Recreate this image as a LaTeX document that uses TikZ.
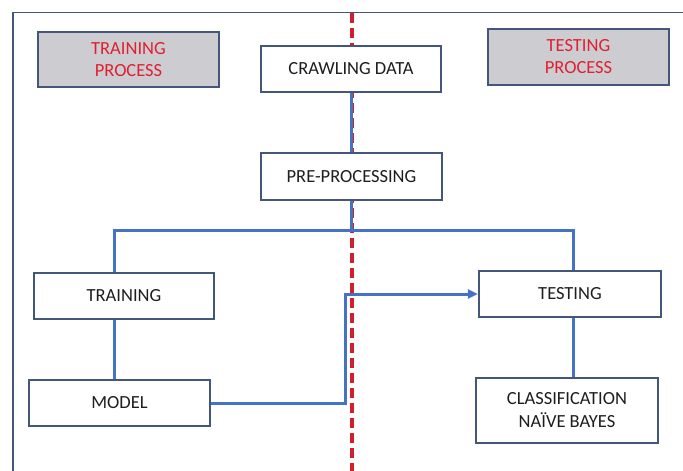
\documentclass[tikz,border=0pt]{standalone}
\usepackage{fontspec}
\setmainfont{Carlito}
\usetikzlibrary{arrows.meta}
\definecolor{boxline}{HTML}{44567C}
\definecolor{conn}{HTML}{4472C4}
\definecolor{redtxt}{HTML}{E02030}
\definecolor{reddash}{HTML}{D0202E}
\definecolor{grayfill}{HTML}{CDCDD1}
\definecolor{txt}{HTML}{1E1E1E}
\tikzset{
  box/.style={draw=boxline, line width=2.3pt, fill=white, rectangle, inner sep=0pt,
    align=center, text=txt, font=\fontsize{18.5}{22}\selectfont},
  graybox/.style={box, fill=grayfill, text=redtxt},
  connline/.style={draw=conn, line width=3pt},
  divider/.style={draw=reddash, line width=3.2pt, dash pattern=on 10pt off 5pt},
  frameline/.style={draw=boxline, line width=1.8pt}
}
\begin{document}
\begin{tikzpicture}[x=1pt,y=-1pt]
\useasboundingbox (0,0) rectangle (683,471);
\coordinate (ftop) at (683,12.5);
\coordinate (fcorner) at (13,12.5);
\coordinate (fbot) at (13,471);
\draw[frameline] (fbot) -- (fcorner) -- (ftop);
\coordinate (dtop) at (352,13);
\coordinate (dbot) at (352,471);
\draw[divider] (dtop) -- (dbot);

\node[graybox, minimum width=181pt, minimum height=55pt] (tp) at (128.5,59.5) {TRAINING\\PROCESS};
\node[graybox, minimum width=181pt, minimum height=56pt] (sp) at (578.5,57) {TESTING\\PROCESS};
\node[box, minimum width=180pt, minimum height=46pt] (crawl) at (351,69) {CRAWLING DATA};
\node[box, minimum width=181pt, minimum height=47pt] (pre) at (351.5,176.5) {PRE-PROCESSING};
\node[box, minimum width=180pt, minimum height=46pt] (train) at (124,296) {TRAINING};
\node[box, minimum width=182pt, minimum height=46pt] (test) at (570,294) {TESTING};
\node[box, minimum width=181pt, minimum height=46pt] (model) at (119.5,403) {MODEL};
\node[box, minimum width=182pt, minimum height=65pt, font=\fontsize{18.5}{23}\selectfont] (cls) at (567,410.5) {CLASSIFICATION\\NAÏVE BAYES};

\coordinate (br) at (351.5,230);
\coordinate (bl) at (114,230);
\coordinate (brr) at (573,230);
\coordinate (mc) at (345,294);

\draw[connline] (crawl.south) -- (crawl.south |- pre.north);
\draw[connline] (pre.south) -- (br);
\draw[connline] (bl |- train.north) -- (bl) -- (brr) -- (brr |- test.north);
\draw[connline] (train.south -| bl) -- (model.north -| bl);
\draw[connline] (test.south -| brr) -- (cls.north -| brr);
\draw[connline, -{Triangle[length=10pt,width=9pt]}] (model.east) -- (model.east -| mc) -- (mc) -- (test.west);
\end{tikzpicture}
\end{document}
